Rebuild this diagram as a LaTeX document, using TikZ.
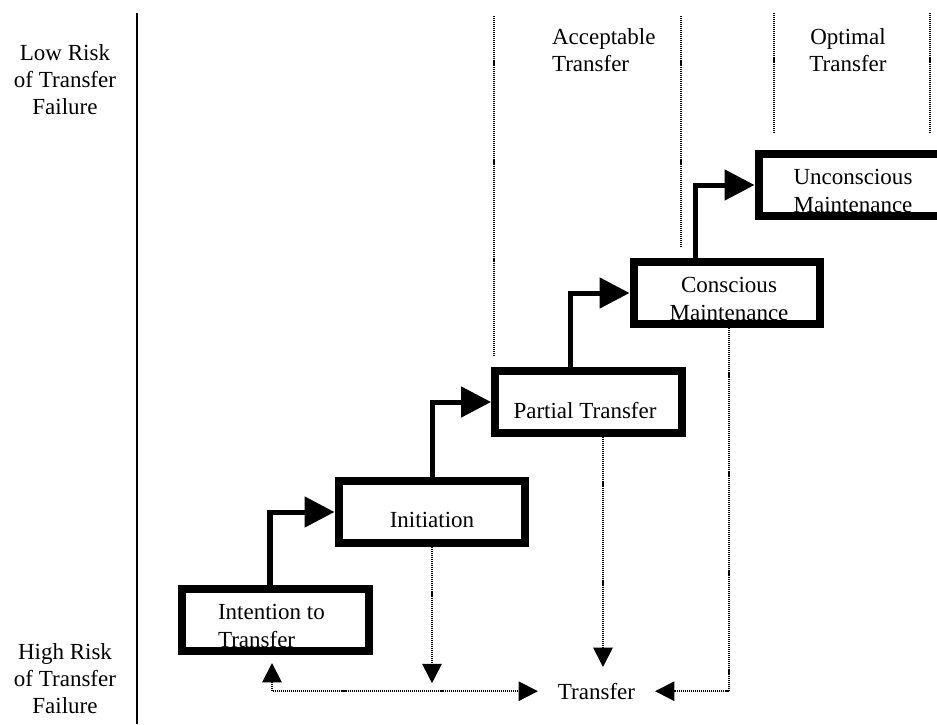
\documentclass[tikz,border=0pt]{standalone}
\usepackage{fontspec}
\setmainfont{Liberation Serif}
\usetikzlibrary{arrows.meta,calc}
\begin{document}
\begin{tikzpicture}[x=0.02cm,y=-0.02cm,
  every node/.style={font=\fontsize{13.1pt}{15.5pt}\selectfont, inner sep=0pt, outer sep=0pt},
  stage/.style={draw, line width=4.55pt, minimum width=3.74cm, minimum height=1.24cm, outer sep=2.275pt},
  stagearrow/.style={line width=2.85pt, -{Triangle[length=17pt,width=17pt]}},
  dotline/.style={line width=1.05pt, dash pattern=on 0.6pt off 0.55pt},
  dottip/.style={-{Triangle[length=11pt,width=11pt]}},
  dotboth/.style={{Triangle[length=11pt,width=11pt]}-{Triangle[length=11pt,width=11pt]}},
]
\useasboundingbox (0,0) rectangle (937,724);
\clip (0,0) rectangle (937,724);

% zone dividers
\draw[dotline] (494,16) -- (494,357);
\draw[dotline] (681,16) -- (681,248);
\draw[dotline] (774,13) -- (774,134);
\draw[dotline] (930,13) -- (930,134);

% risk axis
\draw[line width=1.4pt] (137,13) -- (137,724);

% axis and zone labels
\node[align=center] (lowrisk)  at (65,79.5)  {Low Risk\\of Transfer\\Failure};
\node[align=center] (highrisk) at (65,678.5) {High Risk\\of Transfer\\Failure};
\node[align=left, anchor=west] (acc) at (552,50.5) {Acceptable\\Transfer};
\node[align=center] (opt) at (848,50.5) {Optimal\\Transfer};

% stage texts (set beneath the frames)
\node[align=left, anchor=west] (intenttxt) at (218,626) {Intention to\\Transfer};
\node (inittxt) at (432,519.5) {Initiation};
\node (partialtxt) at (585,411) {Partial Transfer};
\node[align=center] (conscioustxt) at (729,299) {Conscious\\Maintenance};
\node[align=center] (uncontxt) at (853,191) {Unconscious\\Maintenance};

% stage frames
\node[stage] (intent)    at (275.5,620) {};
\node[stage] (init)      at (432,512)   {};
\node[stage] (partial)   at (588.5,402) {};
\node[stage] (conscious) at (727,293)   {};
\node[stage] (uncon)     at (852,185)   {};

% outcome
\node[inner xsep=0.4cm, inner ysep=0.32cm] (transfer) at (596.5,691.2) {Transfer};

% progression steps
\draw[stagearrow] ($(intent.north)+(-5.5,0)$) |- (init.west);
\draw[stagearrow] (init.north) |- (partial.west);
\draw[stagearrow] ($(partial.north)+(-18.5,0)$) |- (conscious.west);
\draw[stagearrow] ($(conscious.north)+(-32,0)$) |- (uncon.west);

% links to transfer
\coordinate (pdrop) at ($(partial.south)+(14.5,0)$);
\draw[dotline, dottip] (init.south) -- ($(init.south |- transfer.west)+(0,-8)$);
\draw[dotline, dottip] (pdrop) -- (pdrop |- transfer.north);
\draw[dotline, dottip] ($(conscious.south)+(2,0)$) |- (transfer.east);
\draw[dotline, dotboth] ($(intent.south)+(-3.5,8)$) |- (transfer.west);
\end{tikzpicture}
\end{document}
